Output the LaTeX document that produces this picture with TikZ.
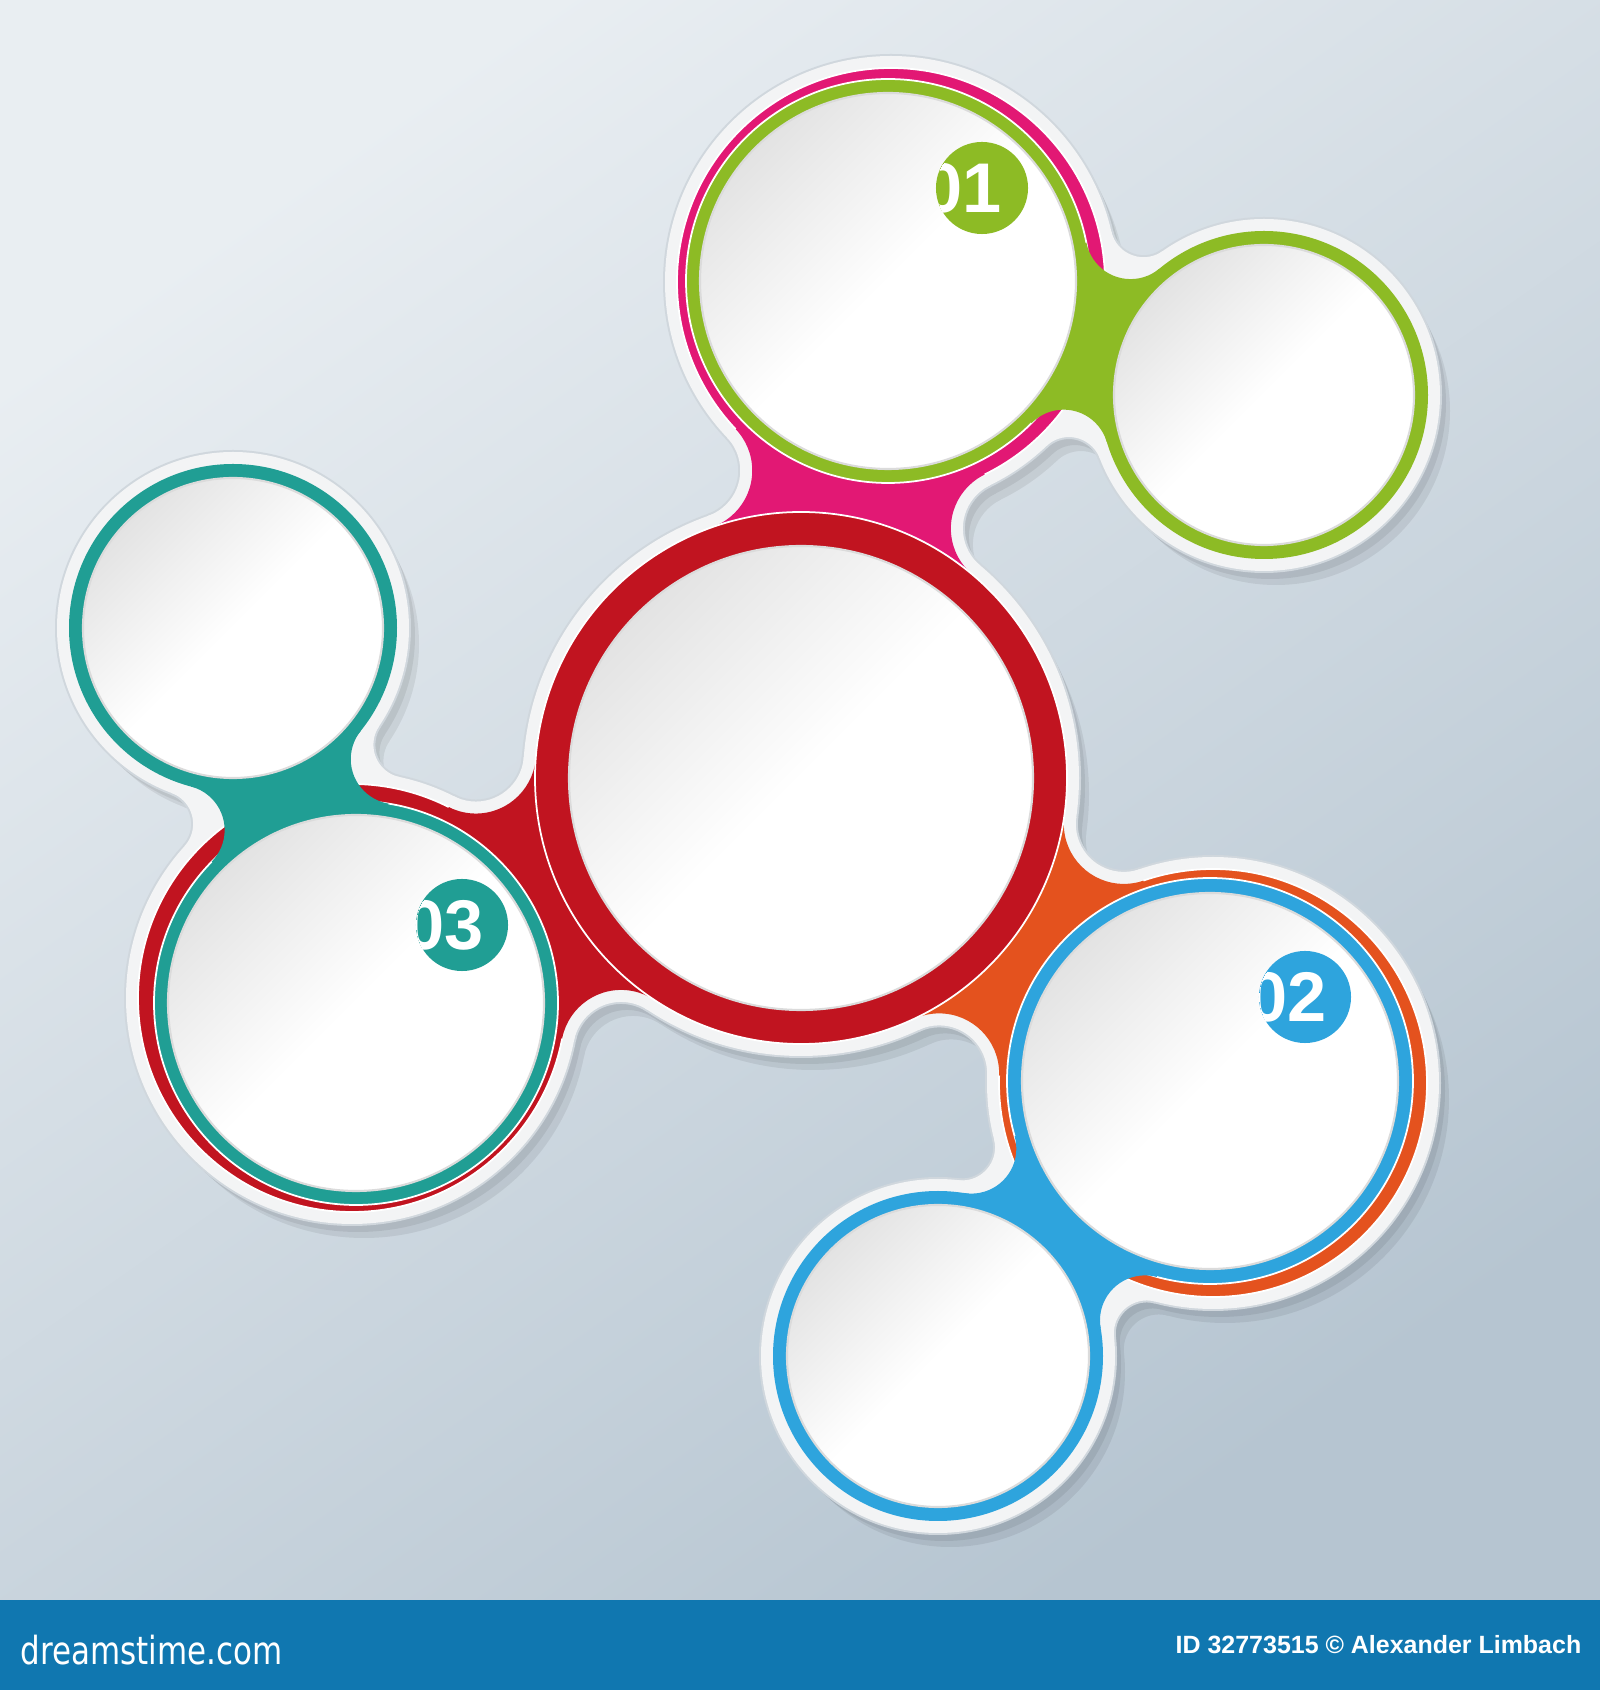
\documentclass[tikz,border=0pt]{standalone}
\usepackage{fontspec}
\usepackage{graphicx}
\setmainfont{Liberation Sans}
\newfontfamily\logofont{DejaVu Sans}
\usetikzlibrary{intersections}

\definecolor{bgtop}{RGB}{233,238,242}
\definecolor{bgbot}{RGB}{182,197,209}
\definecolor{barblue}{RGB}{16,119,176}
\definecolor{ringred}{RGB}{193,20,32}
\definecolor{ringpink}{RGB}{226,24,116}
\definecolor{ringgreen}{RGB}{141,187,37}
\definecolor{ringteal}{RGB}{32,158,148}
\definecolor{ringblue}{RGB}{46,164,221}
\definecolor{ringorange}{RGB}{228,82,30}
\definecolor{halofill}{RGB}{243,244,245}
\definecolor{haloedge}{RGB}{208,215,221}

% neck between two circles: centre a, radius a, centre b, radius b, neck radius, fill
\newcommand{\neck}[6]{%
  \path[name path=nka] (#1) circle[radius=#2+#5];
  \path[name path=nkb] (#3) circle[radius=#4+#5];
  \path[name intersections={of=nka and nkb, by={nk1,nk2}}];
  \begin{scope}
    \clip (#1) -- (nk1) -- (#3) -- (nk2) -- cycle;
    \fill[#6, even odd rule] (#1) circle[radius=#2+#4+3*#5]
      (nk1) circle[radius=#5] (nk2) circle[radius=#5];
  \end{scope}}

% whole outline, grown by #1
\newcommand{\blob}[2]{%
  \foreach \cc/\rr in {C0/266, T1b/214, S1/164, L3b/214, S3/164, R2b/214, S2/165}
    {\fill[#2] (\cc) circle[radius=\rr+#1];}
  \neck{C0}{266+#1}{T1b}{214+#1}{60-#1}{#2}
  \neck{C0}{266+#1}{L3b}{214+#1}{60-#1}{#2}
  \neck{C0}{266+#1}{R2b}{214+#1}{60-#1}{#2}
  \neck{T1b}{214+#1}{S1}{164+#1}{45-#1}{#2}
  \neck{L3b}{214+#1}{S3}{164+#1}{45-#1}{#2}
  \neck{R2b}{214+#1}{S2}{165+#1}{45-#1}{#2}}

\begin{document}
\begin{tikzpicture}[x=0.01cm, y=0.01cm,
  ring/.style={draw=white, line width=0.5pt},
  disc/.style={top color=black!11, bottom color=white, middle color=white, shading angle=45, draw=black!14, line width=0.6pt},
  badge/.style={circle, inner sep=0pt, minimum size=0.92cm},
  numtxt/.style={text=white, font=\fontsize{20}{20}\selectfont\bfseries, inner sep=0pt}]

\useasboundingbox (0,0) rectangle (1600,1690);
\shade[top color=bgtop, bottom color=bgbot, shading angle=35] (0,90) rectangle (1600,1690);

% centres
\coordinate (C0) at (801,912);
\coordinate (T1) at (888,1409);
\coordinate (T1b) at (891,1408);
\coordinate (S1) at (1264,1295);
\coordinate (L3) at (356,687);
\coordinate (L3b) at (352,692);
\coordinate (S3) at (233,1062);
\coordinate (R2) at (1210,609);
\coordinate (R2b) at (1213,607);
\coordinate (S2) at (938,334);

% shadow and white rim
\begin{scope}[transform canvas={shift={(12,-16)}}]
  \begin{scope}[transparency group, opacity=0.07]
    \blob{10}{black}
  \end{scope}
\end{scope}
\begin{scope}[transform canvas={shift={(6,-8)}}]
  \begin{scope}[transparency group, opacity=0.07]
    \blob{12}{black}
  \end{scope}
\end{scope}
\blob{14}{haloedge}
\blob{12}{halofill}

% back rings and necks from the centre
\fill[ringpink, ring] (T1b) circle[radius=214];
\fill[ringred, ring] (L3b) circle[radius=214];
\fill[ringorange, ring] (R2b) circle[radius=214];
\neck{C0}{266}{T1b}{214}{60}{ringpink}
\neck{C0}{266}{L3b}{214}{60}{ringred}
\neck{C0}{266}{R2b}{214}{60}{ringorange}

% front rings
\fill[ringred, ring] (C0) circle[radius=266];
\fill[ringgreen, ring] (T1) circle[radius=202];
\fill[ringgreen] (S1) circle[radius=164];
\fill[ringteal, ring] (L3) circle[radius=202];
\fill[ringteal] (S3) circle[radius=164];
\fill[ringblue, ring] (R2) circle[radius=203];
\fill[ringblue] (S2) circle[radius=165];
\neck{T1}{202}{S1}{164}{45}{ringgreen}
\neck{L3}{202}{S3}{164}{45}{ringteal}
\neck{R2}{203}{S2}{165}{45}{ringblue}

% white discs
\shade[disc] (C0) circle[radius=232];
\shade[disc] (T1) circle[radius=188];
\shade[disc] (S1) circle[radius=150];
\shade[disc] (L3) circle[radius=188];
\shade[disc] (S3) circle[radius=150];
\shade[disc] (R2) circle[radius=188];
\shade[disc] (S2) circle[radius=151];

% numbers
\node[badge, fill=ringgreen] (b1) at (982,1502) {};
\begin{scope}
  \clip (b1) circle[radius=46];
  \node[numtxt] (n1) at (963,1502) {01};
\end{scope}
\node[badge, fill=ringblue] (b2) at (1305,693) {};
\begin{scope}
  \clip (b2) circle[radius=46];
  \node[numtxt] (n2) at (1288,693) {02};
\end{scope}
\node[badge, fill=ringteal] (b3) at (462,765) {};
\begin{scope}
  \clip (b3) circle[radius=46];
  \node[numtxt] (n3) at (445,765) {03};
\end{scope}

% bottom bar
\fill[barblue] (0,0) rectangle (1600,90);
\node[anchor=west, text=white, font=\logofont\fontsize{11}{11}\selectfont, inner sep=0pt] (site) at (20,40) {\scalebox{0.8}[1]{dreamstime.com}};
\node[anchor=east, text=white, font=\fontsize{7.1}{8}\selectfont\bfseries, inner sep=0pt] (credit) at (1582,45) {ID 32773515 © Alexander Limbach};

\end{tikzpicture}
\end{document}
